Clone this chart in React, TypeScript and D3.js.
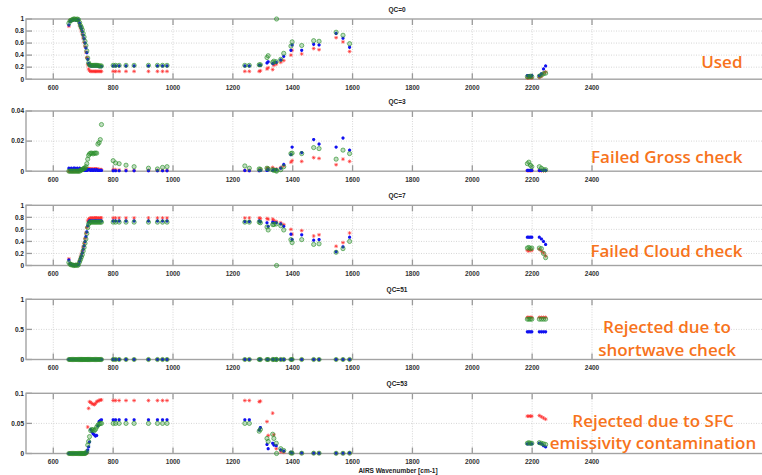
import React from "react";
import * as d3 from "d3";

// ---- Data -----------------------------------------------------------------
// AIRS channel wavenumbers (cm-1); one extra green-only channel at 1346
const channels = [
  652, 656, 660, 664, 668, 672, 676, 680, 684, 688, 691, 694, 697, 700, 703, 706, 709, 712, 715, 718, 721, 725, 729, 733, 737, 741, 745, 749, 753, 757, 761,
  800, 808, 820, 843, 870, 918, 948, 965, 980,
  1240, 1255, 1288, 1292, 1314, 1318, 1333, 1337, 1345, 1360, 1370, 1394, 1398, 1430, 1470, 1488, 1545, 1568, 1590,
  1346,
  2184, 2189, 2194, 2199, 2224, 2231, 2238, 2245,
];

const qcTitles = ["QC=0", "QC=3", "QC=7", "QC=51", "QC=53"];
const yMaxes = [1, 0.04, 1, 1, 0.1];
const yTickValues = [
  [0, 0.2, 0.4, 0.6, 0.8, 1],
  [0, 0.02, 0.04],
  [0, 0.2, 0.4, 0.6, 0.8, 1],
  [0, 0.5, 1],
  [0, 0.05, 0.1],
];
const yTickLabels = [
  ["0", "0.2", "0.4", "0.6", "0.8", "1"],
  ["0", "0.02", "0.04"],
  ["0", "0.2", "0.4", "0.6", "0.8", "1"],
  ["0", "0.5", "1"],
  ["0", "0.05", "0.1"],
];
const xTicks = [600, 800, 1000, 1200, 1400, 1600, 1800, 2000, 2200, 2400];
const xLabel = "AIRS Wavenumber [cm-1]";
const annotations = [
  ["Used"],
  ["Failed Gross check"],
  ["Failed Cloud check"],
  ["Rejected due to", "shortwave check"],
  ["Rejected due to SFC", "emissivity contamination"],
];

type V = number | null;

// QC=0
const qc0Red: V[] = [
  .88, .97, .98, .99, .99, 1.0, .99, .99, .97, .90, .85, .80, .74, .68, .61, .54, .45, .36, .24, .17, .14, .13, .13, .13, .13, .13, .13, .13, .13, .13, .13,
  .13, .13, .13, .13, .13, .13, .13, .13, .13,
  .13, .13, .13, .14, .17, .19, .16, .23, .25, .28, .31, .40, .48, .42, .51, .49, .69, .62, .46,
  null,
  .02, .02, .03, .02, .03, .05, .10, .12,
];
const qc0Blue: V[] = [
  .90, .96, .97, .98, .99, .99, .98, .99, .98, .93, .88, .84, .79, .73, .67, .60, .52, .44, .33, .26, .23, .22, .22, .22, .22, .22, .22, .22, .21, .21, .21,
  .22, .22, .22, .22, .22, .22, .22, .22, .22,
  .22, .22, .23, .23, .27, .29, .26, .27, .28, .32, .38, .48, .57, .48, .58, .57, .76, .68, .53,
  null,
  .06, .06, .05, .06, .06, .09, .17, .22,
];
const qc0Green: V[] = [
  .93, .97, .98, .99, 1.0, 1.0, .99, 1.0, .99, .94, .89, .86, .82, .76, .70, .63, .56, .47, .35, .27, .24, .23, .23, .23, .23, .23, .23, .23, .22, .22, .22,
  .23, .23, .23, .23, .23, .23, .23, .23, .23,
  .23, .23, .24, .24, .36, .39, .28, .30, .29, .33, .43, .55, .62, .56, .64, .63, .78, .73, .59,
  1.0,
  .04, .04, .05, .04, .05, .07, .09, .10,
];

// QC=3
const qc3Red: V[] = [
  0, 0, 0, 0, 0, 0, 0, 0, 0, .0005, .001, .001, .001, .001, .0015, .0015, .0015, .0015, .0015, .0015, .0015, .0015, .0015, .0015, .0015, .0015, .0015, .0015, .001, .001, .001,
  .001, .001, .0008, .0008, .0005, .0005, .0005, .0005, .0005,
  .0005, .0005, .0005, .001, .002, .002, .0025, .001, .0015, .0025, .0035, .006, .007, .0065, .009, .0085, .0043, .008, .0065,
  null,
  .0003, .0003, .0003, .0003, .0003, .0003, .0003, .0003,
];
const qc3Blue: V[] = [
  .002, .001, .002, .001, .002, .002, .001, .002, .001, .002, .001, .001, .001, .001, .001, .0005, .001, .0005, .001, .001, .001, .0005, .001, .0005, .001, .0005, .001, .0005, .0005, .0005, .0005,
  .0003, .0003, .0003, .0003, .0003, .0003, .0003, .0003, .0003,
  .0005, .0003, .0003, .0005, .0005, .001, .0005, .001, .001, .002, .0045, .011, .016, .0124, .021, .018, .016, .022, .014,
  null,
  .0005, .0005, .0005, .0005, .0005, .0005, .0005, .0005,
];
const qc3Green: V[] = [
  0, 0, 0, 0, 0, 0, 0, 0, 0, 0, .0005, .001, .001, .0015, .002, .002, .003, .005, .008, .0105, .0115, .012, .012, .0115, .012, .012, .012, .018, .019, .021, .031,
  .007, .0055, .005, .004, .003, .002, .0015, .0025, .003,
  .0035, .002, .0015, .0012, .002, .0015, .001, .0005, .0005, .001, .003, .0117, .012, .0117, .0157, .015, .008, .014, .0117,
  0,
  .005, .006, .004, .003, .003, .002, .001, .001,
];

// QC=7
const qc7Red: V[] = [
  .11, .03, .02, .01, .01, 0, .01, .01, .03, .08, .14, .19, .24, .31, .37, .45, .54, .63, .74, .77, .78, .79, .79, .79, .79, .79, .79, .79, .79, .79, .79,
  .79, .79, .79, .79, .79, .79, .79, .79, .79,
  .79, .79, .79, .78, .78, .77, .77, .75, .73, .71, .68, .60, .52, .58, .49, .51, .32, .38, .54,
  null,
  .25, .24, .26, .25, .27, .24, .21, .16,
];
const qc7Blue: V[] = [
  .09, .03, .02, .01, .01, 0, .01, .01, .02, .07, .12, .16, .21, .27, .33, .40, .48, .56, .66, .72, .74, .74, .74, .74, .74, .74, .74, .74, .74, .74, .74,
  .74, .74, .74, .74, .74, .74, .74, .74, .74,
  .73, .73, .74, .73, .71, .65, .72, .71, .71, .69, .65, .52, .43, .51, .42, .43, .23, .31, .47,
  null,
  .47, .47, .47, .47, .47, .44, .40, .35,
];
const qc7Green: V[] = [
  .05, .02, .01, .01, 0, 0, .01, 0, .01, .06, .10, .14, .18, .24, .30, .37, .44, .53, .63, .69, .71, .72, .72, .72, .72, .72, .72, .72, .72, .72, .72,
  .72, .72, .72, .72, .72, .72, .72, .72, .72,
  .72, .72, .72, .71, .64, .59, .68, .68, .69, .66, .59, .43, .38, .43, .35, .36, .22, .28, .40,
  0,
  .29, .30, .28, .29, .29, .28, .20, .13,
];

// QC=51
const qc51Red: V[] = [
  0, 0, 0, 0, 0, 0, 0, 0, 0, 0, 0, 0, 0, 0, 0, 0, 0, 0, 0, 0, 0, 0, 0, 0, 0, 0, 0, 0, 0, 0, 0,
  0, 0, 0, 0, 0, 0, 0, 0, 0,
  0, 0, 0, 0, 0, 0, 0, 0, 0, 0, 0, 0, 0, 0, 0, 0, 0, 0, 0,
  null,
  .70, .70, .70, .70, .70, .70, .70, .70,
];
const qc51Blue: V[] = [
  0, 0, 0, 0, 0, 0, 0, 0, 0, 0, 0, 0, 0, 0, 0, 0, 0, 0, 0, 0, 0, 0, 0, 0, 0, 0, 0, 0, 0, 0, 0,
  0, 0, 0, 0, 0, 0, 0, 0, 0,
  0, 0, 0, 0, 0, 0, 0, 0, 0, 0, 0, 0, 0, 0, 0, 0, 0, 0, 0,
  null,
  .46, .46, .46, .46, .46, .46, .46, .46,
];
const qc51Green: V[] = [
  0, 0, 0, 0, 0, 0, 0, 0, 0, 0, 0, 0, 0, 0, 0, 0, 0, 0, 0, 0, 0, 0, 0, 0, 0, 0, 0, 0, 0, 0, 0,
  0, 0, 0, 0, 0, 0, 0, 0, 0,
  0, 0, 0, 0, 0, 0, 0, 0, 0, 0, 0, 0, 0, 0, 0, 0, 0, 0, 0,
  0,
  .67, .67, .67, .67, .67, .67, .67, .67,
];

// QC=53
const qc53Red: V[] = [
  0, 0, 0, 0, 0, 0, 0, 0, 0, 0, 0, 0, 0, 0, 0, 0, 0, .001, .044, .075, .086, .085, .083, .082, .081, .083, .086, .087, .088, .089, .089,
  .088, .088, .088, .088, .088, .088, .088, .088, .088,
  .088, .088, .086, .087, .053, .030, .067, .031, .008, .003, .002, .001, .0005, .0005, .0005, .0005, .0003, .0003, .0005,
  null,
  .062, .062, .062, .062, .063, .061, .059, .057,
];
const qc53Blue: V[] = [
  0, 0, 0, 0, 0, 0, 0, 0, 0, 0, 0, 0, 0, 0, 0, 0, .001, .002, .006, .011, .019, .040, .036, .033, .031, .029, .030, .046, .053, .055, .056,
  .056, .056, .056, .056, .056, .056, .056, .056, .056,
  .056, .056, .039, .043, .015, .008, .017, .014, .013, .006, .004, .002, .001, .001, .0005, .0005, .0005, .0005, .001,
  null,
  .016, .016, .016, .016, .017, .016, .013, .011,
];
const qc53Green: V[] = [
  0, 0, 0, 0, 0, 0, 0, 0, 0, 0, 0, 0, 0, 0, 0, 0, .001, .003, .014, .020, .028, .038, .040, .039, .038, .040, .044, .047, .049, .050, .050,
  .050, .050, .050, .050, .050, .050, .050, .050, .050,
  .050, .050, .037, .040, .025, .020, .032, .025, .017, .008, .005, .001, .0005, .0005, .0005, .0005, .0003, .0003, .0005,
  0,
  .017, .018, .017, .017, .018, .017, .016, .015,
];

const panelSeries = [
  { red: qc0Red, blue: qc0Blue, green: qc0Green },
  { red: qc3Red, blue: qc3Blue, green: qc3Green },
  { red: qc7Red, blue: qc7Blue, green: qc7Green },
  { red: qc51Red, blue: qc51Blue, green: qc51Green },
  { red: qc53Red, blue: qc53Blue, green: qc53Green },
];

// ---- Layout ---------------------------------------------------------------
const W = 762;
const H = 475;
const plotLeft = 26;
const plotRight = 775;
const panelTops = [19, 111, 205.3, 299.3, 393.3];
const panelH = 60.2;
const titleX = 397;
const annoLayout = [
  { x: 742.5, anchor: "end", ys: [68.3] },
  { x: 742.5, anchor: "end", ys: [163.3] },
  { x: 742.5, anchor: "end", ys: [256.7] },
  { x: 667, anchor: "middle", ys: [333.3, 355.5] },
  { x: 653, anchor: "middle", ys: [426.7, 448.7] },
];

const xScale = d3.scaleLinear().domain([600, 2400]).range([53.3, 592]);

const starPath = (s: number) =>
  `M${-s},0H${s}M0,${-s}V${s}M${-s * 0.7},${-s * 0.7}L${s * 0.7},${s * 0.7}M${-s * 0.7},${s * 0.7}L${s * 0.7},${-s * 0.7}`;

const tickFont = "Liberation Sans, Arial, sans-serif";

function Panel({ i }: { i: number }) {
  const top = panelTops[i];
  const bottom = top + panelH;
  const y = d3.scaleLinear().domain([0, yMaxes[i]]).range([bottom, top]);
  const s = panelSeries[i];
  const pts = (arr: V[]) =>
    channels
      .map((c, k) => ({ c, v: arr[k] }))
      .filter((d) => d.v !== null && d.v !== undefined) as { c: number; v: number }[];
  const redStar = starPath(1.9);
  const blueStar = starPath(1.6);
  return (
    <g>
      <text x={titleX} y={top - 7.5} fontSize={6.5} fontWeight="bold" fontFamily={tickFont} fill="#222" textAnchor="middle">
        {qcTitles[i]}
      </text>
      {xTicks.map((t) => (
        <line key={"gx" + t} x1={xScale(t)} x2={xScale(t)} y1={top} y2={bottom} stroke="#c4c4c4" strokeWidth={0.7} strokeDasharray="1,1.5" />
      ))}
      {yTickValues[i].map((t) =>
        t > 0 && t < yMaxes[i] ? (
          <line key={"gy" + t} x1={plotLeft} x2={plotRight} y1={y(t)} y2={y(t)} stroke="#c4c4c4" strokeWidth={0.7} strokeDasharray="1,1.5" />
        ) : null
      )}
      {xTicks.map((t) => (
        <g key={"tx" + t}>
          <line x1={xScale(t)} x2={xScale(t)} y1={top} y2={top + 6} stroke="#9a9a9a" strokeWidth={1.3} />
          <line x1={xScale(t)} x2={xScale(t)} y1={bottom} y2={bottom - 6} stroke="#9a9a9a" strokeWidth={1.3} />
          <text x={xScale(t)} y={bottom + 10.5} fontSize={6.5} fontWeight="bold" fontFamily={tickFont} fill="#333" textAnchor="middle">
            {t}
          </text>
        </g>
      ))}
      {yTickValues[i].map((t, k) => (
        <g key={"ty" + t}>
          <line x1={plotLeft} x2={plotLeft + 6} y1={y(t)} y2={y(t)} stroke="#9a9a9a" strokeWidth={1.3} />
          <text x={plotLeft - 2} y={y(t) + 2.3} fontSize={6.5} fontWeight="bold" fontFamily={tickFont} fill="#222" textAnchor="end">
            {yTickLabels[i][k]}
          </text>
        </g>
      ))}
      <rect x={plotLeft} y={top} width={plotRight - plotLeft} height={panelH} fill="none" stroke="#a3a3a3" strokeWidth={1.4} />
      {pts(s.red).map((d, k) => (
        <path key={"r" + k} d={redStar} transform={`translate(${xScale(d.c)},${y(d.v)})`} stroke="#ff2a2a" strokeWidth={0.75} fill="none" opacity={0.85} />
      ))}
      {pts(s.blue).map((d, k) => (
        <path key={"b" + k} d={blueStar} transform={`translate(${xScale(d.c)},${y(d.v)})`} stroke="#1010f0" strokeWidth={1.05} fill="none" />
      ))}
      {pts(s.green).map((d, k) => (
        <circle
          key={"g" + k}
          cx={xScale(d.c)}
          cy={y(d.v)}
          r={2.1}
          stroke="#2b8f2b"
          strokeOpacity={0.8}
          strokeWidth={0.8}
          fill="#2b8f2b"
          fillOpacity={0.3}
        />
      ))}
      {annotations[i].map((line, k) => (
        <text
          key={"a" + k}
          x={annoLayout[i].x}
          y={annoLayout[i].ys[k]}
          fontSize={17}
          fontWeight={600}
          fontFamily="Open Sans, sans-serif"
          fill="#F7731C"
          textAnchor={annoLayout[i].anchor as any}
        >
          {line}
        </text>
      ))}
    </g>
  );
}

export default function App() {
  return (
    <svg width={W} height={H} style={{ position: "absolute", left: 0, top: 0, background: "#fff" }}>
      <rect x={0} y={0} width={W} height={H} fill="#fff" />
      {qcTitles.map((_, i) => (
        <Panel key={i} i={i} />
      ))}
      <text x={398} y={472.5} fontSize={6.5} fontWeight="bold" fontFamily={tickFont} fill="#222" textAnchor="middle">
        {xLabel}
      </text>
    </svg>
  );
}
